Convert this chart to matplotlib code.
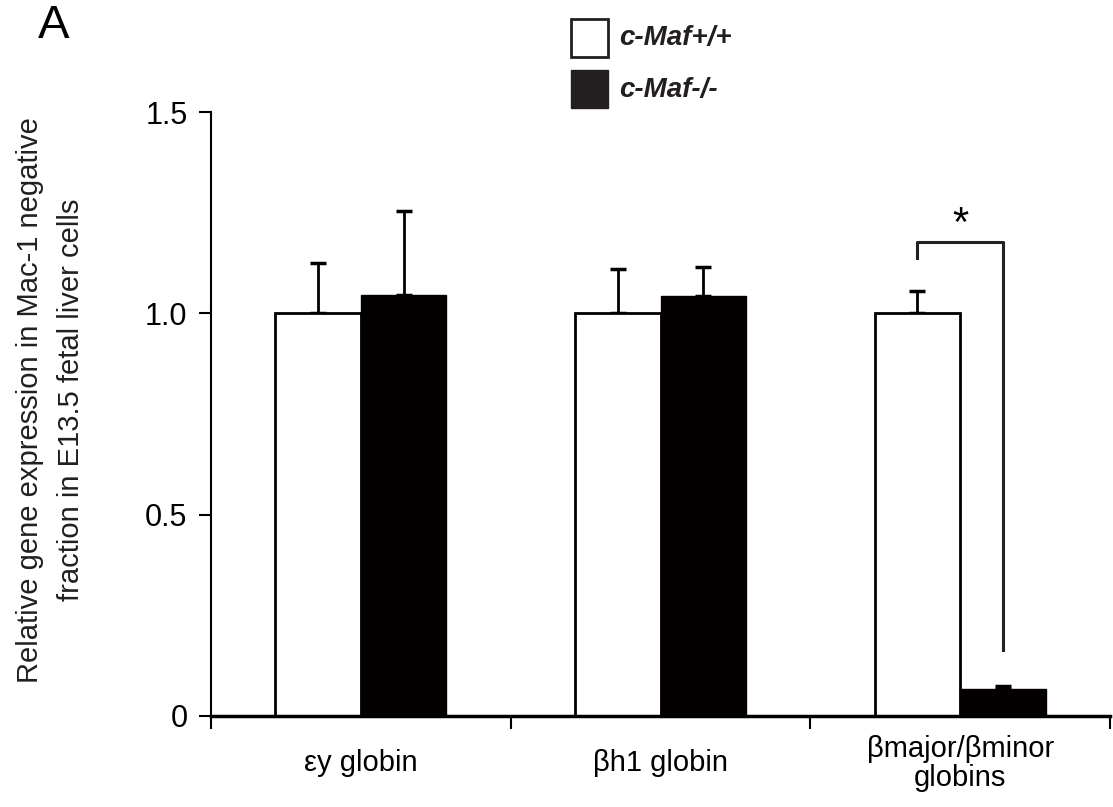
import matplotlib
matplotlib.use("Agg")
import matplotlib.pyplot as plt
from matplotlib.patches import Rectangle
import numpy as np

plt.rcParams['font.family'] = ['Liberation Sans', 'DejaVu Sans']

categories = ['\u03b5y globin', '\u03b2h1 globin', '\u03b2major/\u03b2minor\nglobins']
wt_mean = [1.0, 1.0, 1.0]
wt_err = [0.125, 0.11, 0.055]
ko_mean = [1.045, 1.043, 0.067]
ko_err = [0.21, 0.072, 0.008]
groups = ['c-Maf+/+', 'c-Maf-/-']

fig = plt.figure(figsize=(11.13, 8.07), dpi=100)
ax = fig.add_axes([0.1896, 0.1128, 0.8077, 0.7484])

x = np.arange(len(categories))
w = 0.285
ax.bar(x - w / 2, wt_mean, w, color='white', edgecolor='black', linewidth=2, zorder=2)
ax.bar(x + w / 2, ko_mean, w, color='#050000', edgecolor='#050000', linewidth=1, zorder=2)
ax.errorbar(x - w / 2, wt_mean, yerr=[np.zeros(3), wt_err], fmt='none', ecolor='black',
            elinewidth=2, capsize=6, capthick=2.5, zorder=1)
ax.errorbar(x + w / 2, ko_mean, yerr=[np.zeros(3), ko_err], fmt='none', ecolor='black',
            elinewidth=2, capsize=6, capthick=2.5, zorder=1)

# significance bracket
bx0, bx1 = 2 - w / 2, 2 + w / 2
ax.plot([bx0, bx0, bx1, bx1], [1.138, 1.177, 1.177, 0.165], color='#222222', lw=2.2)
ax.text(2, 1.17, '*', ha='center', va='bottom', fontsize=30)

ax.set_xlim(-0.5, 2.5)
ax.set_ylim(0, 1.5)
ax.set_yticks([0, 0.5, 1.0, 1.5])
ax.set_yticklabels(['0', '0.5', '1.0', '1.5'], fontsize=22)
ax.set_xticks([-0.5, 0.5, 1.5, 2.5])
ax.set_xticklabels([])
ax.set_xticks(x, minor=True)
ax.set_xticklabels(categories, minor=True, fontsize=21, linespacing=1.05)
for lbl in ax.get_xticklabels(minor=True):
    lbl.set_verticalalignment('center')
ax.tick_params(axis='x', which='minor', length=0, pad=34)
ax.tick_params(axis='x', which='major', length=9, width=1.5, direction='out')
ax.tick_params(axis='y', length=9, width=1.5, direction='out', pad=8)
for s in ['top', 'right']:
    ax.spines[s].set_visible(False)
ax.spines['left'].set_linewidth(1.5)
ax.spines['bottom'].set_linewidth(2.5)

ax.set_ylabel('Relative gene expression in Mac-1 negative\nfraction in E13.5 fetal liver cells',
              fontsize=21, linespacing=1.6, color='#231f20')
ax.yaxis.set_label_coords(-0.14, 0.523)

# legend
fig.patches.append(Rectangle((0.513, 0.9294), 0.0332, 0.0471, transform=fig.transFigure,
                             facecolor='white', edgecolor='#231f20', linewidth=2))
fig.patches.append(Rectangle((0.513, 0.8662), 0.0332, 0.0471, transform=fig.transFigure,
                             facecolor='#231f20', edgecolor='#231f20', linewidth=1))
fig.text(0.556, 0.9529, groups[0], fontsize=20, fontweight='bold', fontstyle='italic',
         va='center', color='#231f20')
fig.text(0.556, 0.8885, groups[1], fontsize=20, fontweight='bold', fontstyle='italic',
         va='center', color='#231f20')

fig.text(0.034, 0.968, 'A', fontsize=34, va='center', ha='left')

fig.savefig('out.png', dpi=100)
